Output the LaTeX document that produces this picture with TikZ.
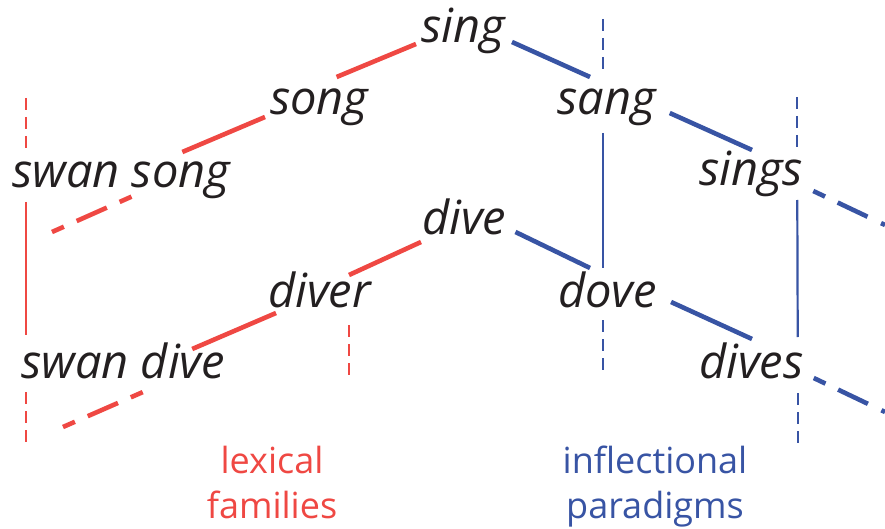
\documentclass[tikz,border=0pt]{standalone}
\usepackage{fontspec}
\setmainfont{Open Sans}
\usetikzlibrary{calc}
\definecolor{lexred}{RGB}{239,72,67}
\definecolor{infblue}{RGB}{56,84,164}
\definecolor{ink}{RGB}{35,31,32}
\tikzset{
  word/.style={inner sep=0pt, anchor=base west, text=ink, font=\fontsize{47}{50}\selectfont\itshape},
  redlink/.style={draw=lexred, line width=4.6pt},
  bluelink/.style={draw=infblue, line width=4.6pt},
  reddash/.style={redlink, dash pattern=on 13pt off 14pt on 33pt off 14pt on 13pt off 20pt},
  bluedash/.style={bluelink, dash pattern=on 13pt off 14pt on 33pt off 15pt on 13pt off 20pt},
  redvert/.style={draw=lexred, line width=2.2pt},
  bluevert/.style={draw=infblue, line width=2.2pt},
  vdash/.style={dash pattern=on 12pt off 7pt},
  caption/.style={inner sep=0pt, anchor=base, align=center, font=\fontsize{36}{45}\selectfont}
}
\begin{document}
\begin{tikzpicture}[x=1pt,y=-1pt]
\useasboundingbox (0,0) rectangle (885,529);
% words
\node[word] (sing) at (421,43) {sing};
\node[word] (song) at (270,115) {song};
\node[word] (sang) at (557,115) {sang};
\node[word] (swansong) at (12,188) {swan song};
\node[word] (sings) at (699,186) {sings};
\node[word] (dive) at (422,235) {dive};
\node[word] (diver) at (268,307) {diver};
\node[word] (dove) at (558,307) {dove};
\node[word] (swandive) at (21,378) {swan dive};
\node[word] (dives) at (699,378) {dives};
% captions
\node[caption, text=lexred] (lex) at (272,518) {lexical\\families};
\node[caption, text=infblue] (infl) at (655,518) {inflectional\\paradigms};
% free ends
\coordinate (singsend) at (885,225);
\coordinate (divesend) at (885,412);
% red lexical links
\draw[redlink] ($(song.base east)+(-32,-38)$) -- ($(sing.base west)+(-5,1)$);
\draw[redlink] ($(swansong.base east)+(-48,-36)$) -- ($(song.base west)+(-5,2)$);
\draw[reddash] ($(swansong.base west)+(40,44)$) -- ($(swansong.base west)+(121,8)$);
\draw[redlink] ($(diver.base east)+(-22,-32)$) -- ($(dive.base west)+(-1,7)$);
\draw[redlink] ($(swandive.base east)+(-33,-29)$) -- ($(diver.base west)+(8,6)$);
\draw[reddash] ($(swandive.base west)+(42,49)$) -- ($(swandive.base west)+(122,14)$);
% red verticals
\draw[redvert, vdash] ($(swansong.base west)+(14,-90)$) -- ($(swansong.base west)+(14,-40)$);
\draw[redvert] ($(swansong.base west)+(14,14)$) -- ($(swandive.base west)+(5,-43)$);
\draw[redvert, vdash] ($(swandive.base west)+(5,14)$) -- ($(swandive.base west)+(5,64)$);
\draw[redvert, vdash] ($(diver.base east)+(-22,18)$) -- ($(diver.base east)+(-22,68)$);
% blue inflectional links
\draw[bluelink] ($(sing.base east)+(7,-1)$) -- ($(sang.base west)+(33,-38)$);
\draw[bluelink] ($(sang.base east)+(14,-2)$) -- ($(sings.base west)+(53,-36)$);
\draw[bluedash] ($(sings.base east)+(10,5)$) -- (singsend);
\draw[bluelink] ($(dive.base east)+(9,-3)$) -- ($(dove.base west)+(32,-39)$);
\draw[bluelink] ($(dove.base east)+(14,-5)$) -- ($(dives.base west)+(53,-39)$);
\draw[bluedash] ($(dives.base east)+(10,0)$) -- (divesend);
% blue verticals
\draw[bluevert, vdash] ($(sang.base west)+(46,-96)$) -- ($(sang.base west)+(46,-45)$);
\draw[bluevert] ($(sang.base west)+(46,18)$) -- ($(dove.base west)+(45,-39)$);
\draw[bluevert, vdash] ($(dove.base west)+(45,13)$) -- ($(dove.base west)+(45,65)$);
\draw[bluevert, vdash] ($(sings.base east)+(-6,-89)$) -- ($(sings.base east)+(-6,-39)$);
\draw[bluevert] ($(sings.base east)+(-6,14)$) -- ($(dives.base east)+(-6,-41)$);
\draw[bluevert, vdash] ($(dives.base east)+(-6,15)$) -- ($(dives.base east)+(-6,67)$);
\end{tikzpicture}
\end{document}
